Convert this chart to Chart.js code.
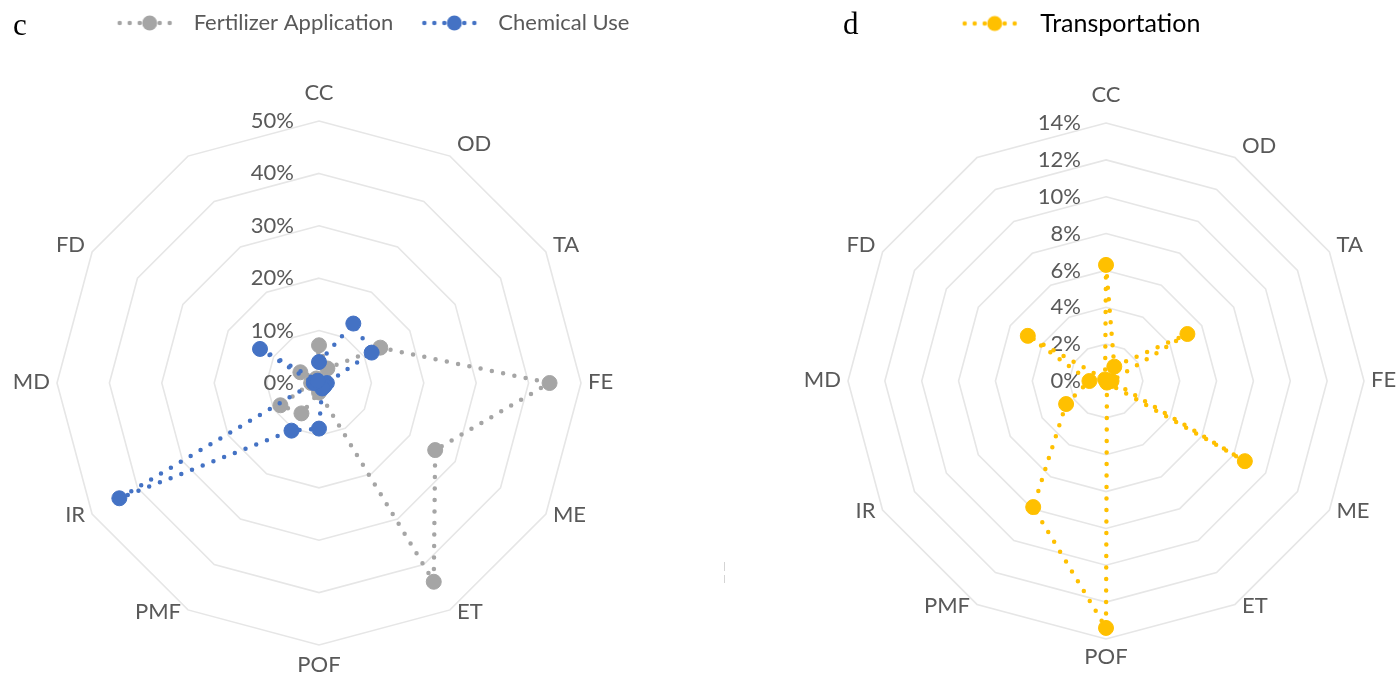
<!DOCTYPE html>
<html>
<head>
<meta charset="utf-8">
<title>Radar panels c and d</title>
<script src="https://cdn.jsdelivr.net/npm/chart.js@4.4.1/dist/chart.umd.min.js"></script>
<style>
  html, body { margin: 0; padding: 0; background: #fff; }
  #wrap { position: relative; width: 1397px; height: 679px; overflow: hidden; }
  #wrap canvas { position: absolute; top: 0; }
  .tag { position: absolute; font-family: 'Liberation Serif', 'DejaVu Serif', serif; font-size: 31px; color: #000; line-height: 1; }
  .tick { position: absolute; left: 724px; width: 1px; background: #d4d4d4; }
</style>
</head>
<body>
<div id="wrap">
  <canvas id="chartC" width="700" height="679" style="left:0"></canvas>
  <canvas id="chartD" width="697" height="679" style="left:700px"></canvas>
  <div class="tag" style="left:13px;top:9px">c</div>
  <div class="tag" style="left:843px;top:8px">d</div>
  <div class="tick" style="top:562px;height:9px"></div>
  <div class="tick" style="top:575px;height:8px"></div>
</div>
<script>
// spokes of both radars (the 12th spoke has no label in the original figure)
const categories = ['CC', 'OD', 'TA', 'FE', 'ME', 'ET', 'POF', 'PMF', 'IR', 'MD', 'FD', ''];

// panel c, values in %
const fertilizerApplication = [7.2, 3.2, 13.5, 44, 25.6, 43.8, 1.8, 6.7, 8.5, 1.5, 4.1, 1.0];
const chemicalUse = [4.0, 13.1, 11.6, 1.5, 1.2, 1.2, 8.7, 10.5, 44, 1.0, 13.0, 0.5];
const ticksC = [0, 10, 20, 30, 40, 50];

// panel d, values in %
const transportation = [6.3, 0.9, 5.1, 0.3, 8.7, 0.1, 13.4, 7.9, 2.5, 0.9, 4.9, 0.1];
const ticksD = [0, 2, 4, 6, 8, 10, 12, 14];

const GRAY = '#a5a5a5';
const BLUE = '#4472c4';
const GOLD = '#ffc000';
const TEXT = '#595959';
const FONT = 'Lato, "Open Sans", sans-serif';

Chart.defaults.font.family = FONT;

// dotted line + marker, drawn into a small canvas for the legend
function legendSymbol(color) {
    const c = document.createElement('canvas');
    c.width = 82;
    c.height = 18;
    const g = c.getContext('2d');
    g.strokeStyle = color;
    g.lineWidth = 4.5;
    g.lineCap = 'round';
    g.setLineDash([0, 10]);
    g.beginPath();
    g.moveTo(19, 9);
    g.lineTo(79, 9);
    g.stroke();
    g.fillStyle = color;
    g.beginPath();
    g.arc(49, 9, 7.5, 0, Math.PI * 2);
    g.fill();
    return c;
}

// tick labels left of the top spoke; category labels set beside each rim vertex, Excel style
const excelLabels = {
    id: 'excelLabels',
    beforeDatasetsDraw(chart, args, opts) {
        const scale = chart.scales.r;
        const ctx = chart.ctx;
        ctx.save();
        ctx.fillStyle = TEXT;
        ctx.font = opts.tickSize + 'px ' + FONT;
        ctx.textAlign = 'right';
        ctx.textBaseline = 'middle';
        scale.ticks.forEach(t => {
            const y = scale.yCenter - scale.getDistanceFromCenterForValue(t.value);
            ctx.fillText(t.value + '%', scale.xCenter - 25, y);
        });
        ctx.font = opts.labelSize + 'px ' + FONT;
        ctx.textAlign = 'center';
        chart.data.labels.forEach((lab, i) => {
            if (!lab) return;
            const v = scale.getPointPosition(i, scale.drawingArea);
            const a = scale.getIndexAngle(i);
            const s = Math.sin(a), c = Math.cos(a);
            const w = ctx.measureText(lab).width;
            let x = v.x, y = v.y;
            if (Math.abs(s) < 1e-6) {
                y += c > 0 ? -opts.topGap : opts.bottomGap;
            } else {
                x += Math.sign(s) * (w / 2 + 7);
                y += (c > 0 ? -12.5 * c : -3 * c) - 1;
            }
            ctx.fillText(lab, x, y);
        });
        ctx.restore();
    }
};

function series(label, data, color, order) {
    return {
        label: label,
        data: data,
        order: order,
        fill: false,
        clip: false,
        borderColor: color,
        backgroundColor: color,
        borderWidth: 4.5,
        borderDash: [0, 11.5],
        borderCapStyle: 'round',
        tension: 0,
        pointRadius: 7.5,
        pointBorderWidth: 1,
        pointBackgroundColor: color,
        pointBorderColor: color
    };
}

function makeRadar(canvasId, datasets, ticks, geo, legendFont, legendColor, padLeft) {
    const symbols = datasets.map(ds => legendSymbol(ds.borderColor));
    return new Chart(document.getElementById(canvasId), {
        type: 'radar',
        data: { labels: categories, datasets: datasets },
        options: {
            responsive: false,
            animation: false,
            events: [],
            layout: { padding: { left: padLeft, right: 0, top: geo.legendTop, bottom: 0 } },
            plugins: {
                tooltip: { enabled: false },
                legend: {
                    display: true,
                    position: 'top',
                    labels: {
                        usePointStyle: true,
                        pointStyleWidth: 82,
                        boxHeight: 18,
                        padding: 12,
                        color: legendColor,
                        font: { size: legendFont, family: FONT },
                        generateLabels: chart => chart.data.datasets.map((ds, i) => ({
                            text: ds.label,
                            pointStyle: symbols[i],
                            fontColor: legendColor,
                            fillStyle: 'transparent',
                            strokeStyle: 'transparent',
                            lineWidth: 0,
                            hidden: false,
                            datasetIndex: i
                        }))
                    }
                },
                excelLabels: { tickSize: 22, labelSize: 22, topGap: 28, bottomGap: geo.bottomGap }
            },
            scales: {
                r: {
                    min: ticks[0],
                    max: ticks[ticks.length - 1],
                    ticks: { stepSize: ticks[1] - ticks[0], display: false },
                    grid: { color: '#e6e6e6', lineWidth: 1.6 },
                    angleLines: { display: false },
                    pointLabels: { display: false },
                    // pin the radar where the original sits
                    afterFit: scale => {
                        scale.xCenter = geo.cx;
                        scale.yCenter = geo.cy;
                        scale.drawingArea = geo.r;
                    }
                }
            }
        },
        plugins: [excelLabels]
    });
}

makeRadar('chartC', [
    series('Fertilizer Application', fertilizerApplication, GRAY, 1),
    series('Chemical Use', chemicalUse, BLUE, 0)
], ticksC, { cx: 319, cy: 383, r: 262, bottomGap: 20, legendTop: 0 }, 22, TEXT, 30);

makeRadar('chartD', [
    series('Transportation', transportation, GOLD, 0)
], ticksD, { cx: 406, cy: 381, r: 258, bottomGap: 18, legendTop: -1 }, 25, '#000000', 49);
</script>
</body>
</html>
